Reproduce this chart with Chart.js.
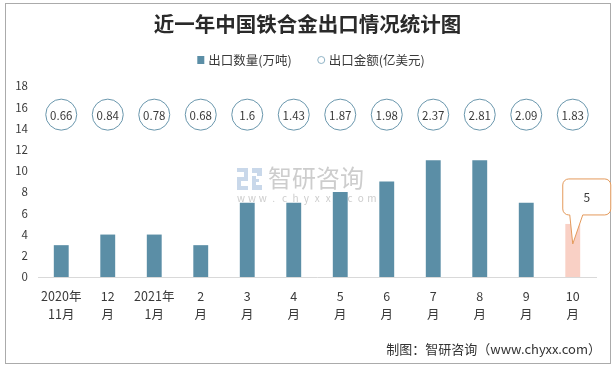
<!DOCTYPE html>
<html><head><meta charset="utf-8">
<script src="https://cdn.jsdelivr.net/npm/chart.js@4"></script>
<style>html,body{margin:0;padding:0;background:#fff}#wrap{width:615px;height:370px;position:relative}</style>
</head><body><div id="wrap"><canvas id="c" width="615" height="370"></canvas></div>
<script>
const categories = [["2020年","11月"],["12","月"],["2021年","1月"],["2","月"],["3","月"],["4","月"],["5","月"],["6","月"],["7","月"],["8","月"],["9","月"],["10","月"]];
const exportVolume = [3,4,4,3,7,7,8,9,11,11,7,5];
const exportValue = [0.66,0.84,0.78,0.68,1.6,1.43,1.87,1.98,2.37,2.81,2.09,1.83];
const yTickValues = [0,2,4,6,8,10,12,14,16,18];
const seriesNames = ["出口数量(万吨)","出口金额(亿美元)"];
const titleText = "近一年中国铁合金出口情况统计图";
const sourceText = "制图：智研咨询（www.chyxx.com）";
const amountRowLevel = 15.3;

const FONT = '"Noto Sans CJK SC", "Noto Sans", sans-serif';
const BAR = '#5b8ea6';
const PINK = '#f9d0c5';
const RING = '#6a97ad';
const TXT = '#3a3a3a';
const lastIdx = exportVolume.length - 1;

const decor = {
  id: 'decor',
  beforeDraw(chart) {
    const ctx = chart.ctx;
    ctx.save();
    ctx.fillStyle = '#fff';
    ctx.fillRect(0, 0, chart.width, chart.height);
    ctx.restore();
  },
  beforeDatasetsDraw(chart) {
    const ctx = chart.ctx;
    ctx.save();
    ctx.fillStyle = '#c9d8ea';
    ctx.fillRect(237, 168, 11, 4);
    ctx.fillRect(244, 168, 4, 12);
    ctx.fillRect(237, 177, 11, 4);
    ctx.fillRect(237, 177, 4, 13);
    ctx.fillRect(237, 186, 11, 4);
    ctx.fillRect(252, 168, 10, 22);
    ctx.fillStyle = '#fff';
    ctx.fillRect(252, 173, 5, 3);
    ctx.fillRect(256, 176, 6, 9);
    ctx.fillStyle = '#c9d8ea';
    ctx.fillRect(256, 179, 3, 3);
    ctx.fillStyle = '#cdcdcd';
    ctx.font = '24px ' + FONT;
    ctx.textBaseline = 'middle';
    ctx.textAlign = 'left';
    ctx.fillText('智研咨询', 268, 178);
    ctx.font = '10px ' + FONT;
    ctx.textAlign = 'center';
    const w = 'www.chyxx.com';
    for (let i = 0; i < w.length; i++) ctx.fillText(w[i], 241 + i * 10.9, 198);
    ctx.restore();
  },
  afterDraw(chart) {
    const ctx = chart.ctx;
    ctx.save();
    ctx.strokeStyle = '#ababab';
    ctx.lineWidth = 1;
    ctx.strokeRect(5.5, 3.5, 605, 360);
    ctx.font = '12.5px ' + FONT;
    ctx.textBaseline = 'middle';
    ctx.textAlign = 'left';
    const t1 = ctx.measureText(seriesNames[0]).width;
    const t2 = ctx.measureText(seriesNames[1]).width;
    const total = 7 + 4 + t1 + 26 + 7 + 4 + t2;
    let x = 311 - total / 2;
    const ly = 60;
    ctx.fillStyle = BAR;
    ctx.fillRect(x, ly - 4, 7, 8);
    ctx.fillStyle = TXT;
    ctx.fillText(seriesNames[0], x + 11, ly);
    x += 11 + t1 + 26;
    ctx.beginPath();
    ctx.arc(x + 3.5, ly, 3.5, 0, Math.PI * 2);
    ctx.strokeStyle = '#8fb3c6';
    ctx.stroke();
    ctx.fillStyle = TXT;
    ctx.fillText(seriesNames[1], x + 11, ly);
    const meta1 = chart.getDatasetMeta(1);
    ctx.font = '11.5px ' + FONT;
    ctx.textAlign = 'center';
    ctx.fillStyle = TXT;
    meta1.data.forEach((p, i) => ctx.fillText(String(exportValue[i]), p.x, p.y + 0.5));
    const bar = chart.getDatasetMeta(0).data[lastIdx];
    const cx = bar.x, top = bar.y;
    const x0 = cx - 10, x1 = cx + 38, y0 = top - 45, y1 = top - 9, r = 6;
    ctx.beginPath();
    ctx.moveTo(x0 + r, y0);
    ctx.lineTo(x1 - r, y0);
    ctx.arcTo(x1, y0, x1, y0 + r, r);
    ctx.lineTo(x1, y1 - r);
    ctx.arcTo(x1, y1, x1 - r, y1, r);
    ctx.lineTo(cx + 10, y1);
    ctx.lineTo(cx, top + 20);
    ctx.lineTo(cx - 3, y1);
    ctx.lineTo(x0 + r, y1);
    ctx.arcTo(x0, y1, x0, y1 - r, r);
    ctx.lineTo(x0, y0 + r);
    ctx.arcTo(x0, y0, x0 + r, y0, r);
    ctx.closePath();
    ctx.fillStyle = '#fff';
    ctx.fill();
    ctx.strokeStyle = '#e49a5b';
    ctx.lineWidth = 1;
    ctx.stroke();
    ctx.fillStyle = TXT;
    ctx.font = '12px ' + FONT;
    ctx.fillText(String(exportVolume[lastIdx]), (x0 + x1) / 2, (y0 + y1) / 2);
    ctx.font = '13px ' + FONT;
    ctx.textAlign = 'right';
    ctx.fillStyle = '#333';
    ctx.fillText(sourceText, 601, 349);
    ctx.restore();
  }
};

new Chart(document.getElementById('c'), {
  type: 'bar',
  data: {
    labels: categories,
    datasets: [
      {
        type: 'bar',
        label: seriesNames[0],
        data: exportVolume,
        backgroundColor: exportVolume.map((v, i) => i === lastIdx ? PINK : BAR),
        barPercentage: 0.32,
        categoryPercentage: 1,
        order: 2
      },
      {
        type: 'line',
        label: seriesNames[1],
        data: categories.map(() => amountRowLevel),
        showLine: false,
        pointRadius: 15.5,
        pointHoverRadius: 15.5,
        pointBackgroundColor: '#fff',
        pointBorderColor: RING,
        pointBorderWidth: 1,
        order: 1
      }
    ]
  },
  options: {
    responsive: false,
    animation: false,
    events: [],
    layout: { padding: { left: 0, right: 0, top: 0, bottom: 0 } },
    plugins: {
      legend: { display: false },
      tooltip: { enabled: false },
      title: {
        display: true,
        text: titleText,
        color: '#2a2a2a',
        font: { family: FONT, size: 20.5, weight: 'bold', lineHeight: 1.2 },
        padding: { top: 11.7, bottom: 49.7 }
      }
    },
    scales: {
      x: {
        grid: { display: false, drawTicks: false },
        border: { color: '#d9d9d9' },
        ticks: { color: TXT, font: { family: FONT, size: 12.5, lineHeight: 1.5 }, padding: 9.5, maxRotation: 0, autoSkip: false },
        afterFit(s) { s.height = 93; }
      },
      y: {
        min: 0, max: 18,
        grid: { display: false, drawTicks: false },
        border: { display: false },
        ticks: {
          stepSize: 2, color: TXT, padding: 10,
          font: { family: FONT, size: 11.5 },
          callback: v => yTickValues.includes(v) ? String(v) : ''
        },
        afterFit(s) { s.width = 38; }
      },
      ySpacer: {
        position: 'right',
        min: 0, max: 18,
        grid: { display: false, drawTicks: false },
        border: { display: false },
        ticks: { display: false },
        afterFit(s) { s.width = 19; }
      }
    }
  },
  plugins: [decor]
});
</script>
</body></html>
